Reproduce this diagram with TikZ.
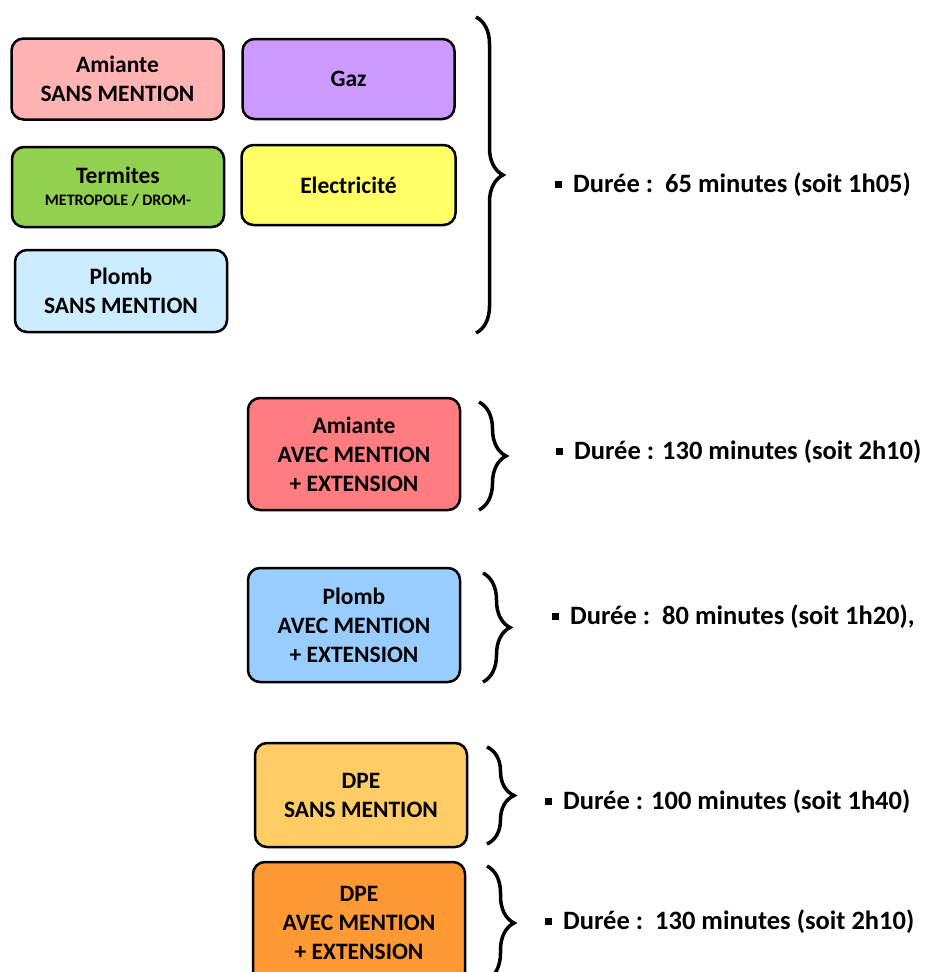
\documentclass[tikz,border=0pt]{standalone}
\usepackage{fontspec}
\setmainfont{Carlito}
\usetikzlibrary{decorations.pathreplacing}
\definecolor{amsans}{RGB}{255,179,179}
\definecolor{gazcol}{RGB}{204,153,255}
\definecolor{termcol}{RGB}{146,208,80}
\definecolor{eleccol}{RGB}{255,255,102}
\definecolor{plsans}{RGB}{204,236,255}
\definecolor{amavec}{RGB}{255,124,128}
\definecolor{plavec}{RGB}{153,204,255}
\definecolor{dpesans}{RGB}{255,204,102}
\definecolor{dpeavec}{RGB}{255,153,51}
\newcommand{\puce}{\rule[5pt]{7pt}{7pt}\hspace{11pt}}
\begin{document}
\begin{tikzpicture}[
    x=1pt, y=-1pt,
    diag/.style={draw, line width=2.5pt, rounded corners=12pt, minimum width=212pt, minimum height=80pt, align=center, inner sep=2pt, font=\fontsize{23.5}{29}\selectfont\bfseries},
    accolade/.style={decorate, decoration={brace, amplitude=27pt}, line width=3.5pt},
    duree/.style={anchor=west, inner sep=0pt, font=\fontsize{26.5}{30}\selectfont\bfseries}
]
\useasboundingbox (0,0) rectangle (927,972);
\clip (0,0) rectangle (927,972);

% Groupe 65 minutes
\node[diag, fill=amsans, minimum height=81pt] (asans) at (117.5,79) {Amiante\\SANS MENTION};
\node[diag, fill=gazcol] (gaz) at (348.5,79) {Gaz};
\node[diag, fill=termcol] (term) at (118,187) {Termites\\[-7pt]{\fontsize{16}{18}\selectfont METROPOLE / DROM-}};
\node[diag, fill=eleccol, minimum width=214pt] (elec) at (348.5,185) {Electricité};
\node[diag, fill=plsans, minimum height=82pt] (psans) at (121,291) {Plomb\\SANS MENTION};
\coordinate (b1h) at (476,17);
\coordinate (b1b) at (476,333);
\draw[accolade] (b1h) -- (b1b);
\node[duree] (t1) at (555,185) {\puce Durée :\ \ 65\ minutes\ (soit\ 1h05)};

% Amiante avec mention
\node[diag, fill=amavec, minimum height=112pt] (aavec) at (354,454) {Amiante\\AVEC MENTION\\+ EXTENSION};
\coordinate (b2h) at (479,402);
\coordinate (b2b) at (479,510);
\draw[accolade] (b2h) -- (b2b);
\node[duree] (t2) at (556,452) {\puce Durée : 130 minutes (soit 2h10)};

% Plomb avec mention
\node[diag, fill=plavec, minimum height=114pt] (pavec) at (354,625) {Plomb\\AVEC MENTION\\+ EXTENSION};
\coordinate (b3h) at (483,573);
\coordinate (b3b) at (483,682);
\draw[accolade] (b3h) -- (b3b);
\node[duree] (t3) at (552,617) {\puce Durée :\ \ 80 minutes (soit 1h20),};

% DPE
\node[diag, fill=dpesans, minimum height=104pt] (dsans) at (361,795) {DPE\\SANS MENTION};
\coordinate (b4h) at (487,747);
\coordinate (b4b) at (487,844);
\draw[accolade] (b4h) -- (b4b);
\node[duree] (t4) at (545,802) {\puce Durée : 100 minutes (soit 1h40)};

\node[diag, fill=dpeavec, minimum height=122pt] (davec) at (359,923) {DPE\\AVEC MENTION\\+ EXTENSION};
\coordinate (b5h) at (487,866);
\coordinate (b5b) at (487,980);
\draw[accolade] (b5h) -- (b5b);
\node[duree] (t5) at (545,922) {\puce Durée :\ \ 130 minutes (soit 2h10)};

\end{tikzpicture}
\end{document}
